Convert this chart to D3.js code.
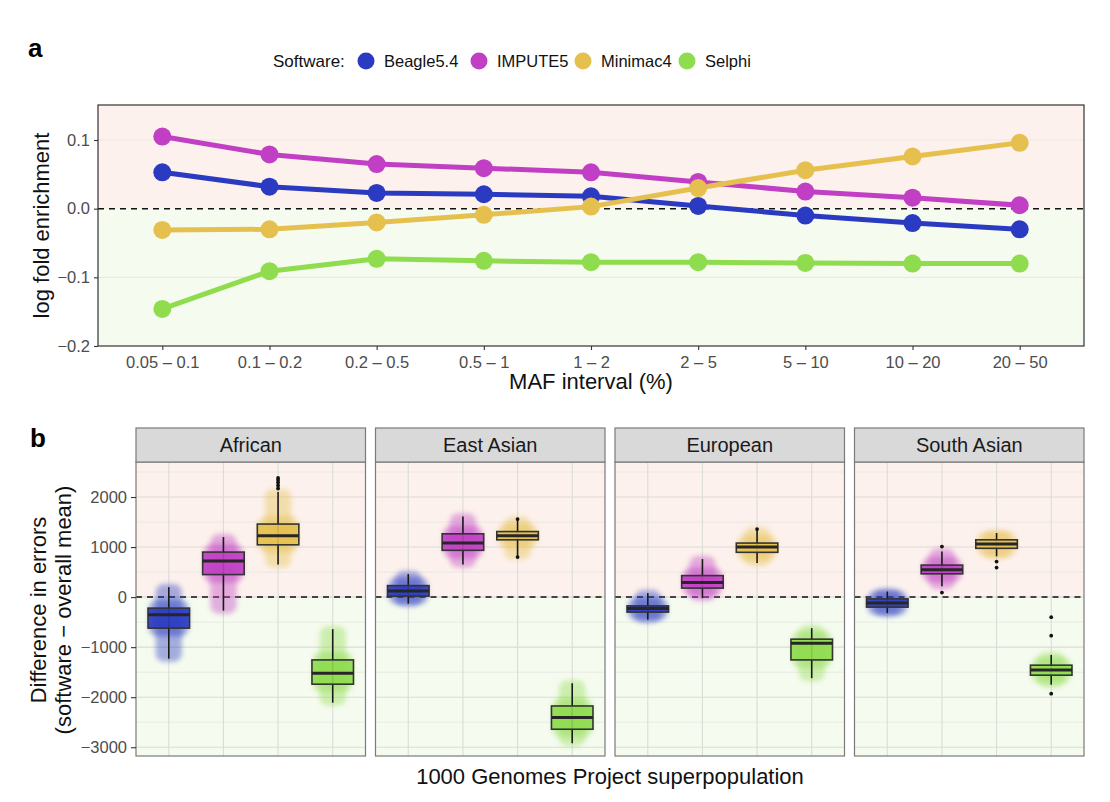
<!DOCTYPE html>
<html>
<head>
<meta charset="utf-8">
<script src="https://cdn.jsdelivr.net/npm/d3@7"></script>
<style>
body { margin: 0; background: #fff; }
text { font-family: "Liberation Sans", Arial, sans-serif; }
</style>
</head>
<body>
<div id="chart"></div>
<script>
/******************************************************* DONNEES *****/

const mafIntervals = ["0.05 – 0.1", "0.1 – 0.2", "0.2 – 0.5", "0.5 – 1", "1 – 2", "2 – 5", "5 – 10", "10 – 20", "20 – 50"];
const softwares = ["Beagle5.4", "IMPUTE5", "Minimac4", "Selphi"];
const softColors = ["#2a3bc2", "#c03fc4", "#e6c04e", "#8fdc4f"];

// panel a : log fold enrichment par intervalle de MAF
const beagleEnrich  = [0.053, 0.032, 0.023, 0.021, 0.018, 0.004, -0.010, -0.021, -0.030];
const imputeEnrich  = [0.105, 0.079, 0.065, 0.059, 0.053, 0.039, 0.025, 0.016, 0.005];
const minimacEnrich = [-0.031, -0.030, -0.020, -0.009, 0.003, 0.030, 0.056, 0.076, 0.096];
const selphiEnrich  = [-0.146, -0.091, -0.073, -0.076, -0.078, -0.078, -0.079, -0.080, -0.080];
const enrichTicks = [0.1, 0, -0.1, -0.2];

// panel b : [moustache bas, q1, mediane, q3, moustache haut] par superpopulation
const populations = ["African", "East Asian", "European", "South Asian"];
const beagleBox  = [[-1230, -620, -350, -220, 200], [-130, 20, 120, 230, 460], [-450, -300, -230, -175, 80], [-320, -200, -120, -35, 110]];
const imputeBox  = [[-270, 450, 720, 900, 1200], [650, 935, 1080, 1265, 1610], [-20, 180, 290, 430, 760], [215, 465, 545, 640, 910]];
const minimacBox = [[650, 1045, 1225, 1460, 2100], [810, 1145, 1225, 1310, 1545], [680, 895, 1000, 1080, 1340], [815, 975, 1060, 1145, 1280]];
const selphiBox  = [[-2110, -1740, -1520, -1255, -640], [-2920, -2640, -2405, -2175, -1720], [-1620, -1255, -920, -840, -620], [-1750, -1560, -1455, -1360, -1155]];
const beagleOut  = [[], [], [], []];
const imputeOut  = [[], [], [], [1010, 90]];
const minimacOut = [[2170, 2230, 2290, 2340, 2380], [1560, 800], [1360], [710, 590]];
const selphiOut  = [[], [], [], [-400, -770, -1930]];
const errorTicks = [2000, 1000, 0, -1000, -2000, -3000];

const enrichSeries = [beagleEnrich, imputeEnrich, minimacEnrich, selphiEnrich];
const boxSeries = [beagleBox, imputeBox, minimacBox, selphiBox];
const outSeries = [beagleOut, imputeOut, minimacOut, selphiOut];

/******************************************************* SVG *****/

const width = 1110, height = 802;
const svg = d3.select("#chart").append("svg")
	.attr("width", width)
	.attr("height", height);

svg.append("defs").append("filter")
	.attr("id", "blur")
	.attr("x", "-50%").attr("y", "-50%").attr("width", "200%").attr("height", "200%")
	.append("feGaussianBlur").attr("stdDeviation", 2.5);

const color = d3.scaleOrdinal().domain(softwares).range(softColors);
const tickGrey = "#4d4d4d";
const pink = "#fcf1ec", green = "#f5fbef";
const tickFont = "16.5px", titleFont = "22px";

/******************************************************* PANEL A *****/

const a = { left: 98, right: 1084, top: 105, bottom: 346 };
const xA = d3.scalePoint().domain(mafIntervals).range([a.left, a.right]).padding(0.6);
const yA = d3.scaleLinear().domain([-0.2, 0.151]).range([a.bottom, a.top]);

svg.append("rect")
	.attr("x", a.left).attr("y", a.top)
	.attr("width", a.right - a.left).attr("height", yA(0) - a.top)
	.attr("fill", pink);
svg.append("rect")
	.attr("x", a.left).attr("y", yA(0))
	.attr("width", a.right - a.left).attr("height", a.bottom - yA(0))
	.attr("fill", green);

svg.append("g").selectAll("line")
	.data(enrichTicks.filter(d => d !== 0 && d !== -0.2))
	.enter().append("line")
	.attr("x1", a.left).attr("x2", a.right)
	.attr("y1", d => yA(d)).attr("y2", d => yA(d))
	.style("stroke", "#ece8e4")
	.style("stroke-width", 1.2);

svg.append("line")
	.attr("x1", a.left).attr("x2", a.right)
	.attr("y1", yA(0)).attr("y2", yA(0))
	.style("stroke", "#111")
	.style("stroke-width", 1.5)
	.style("stroke-dasharray", "6,5");

const line = d3.line()
	.x((d, i) => xA(mafIntervals[i]))
	.y(d => yA(d));

const seriesA = svg.append("g");
seriesA.selectAll("path")
	.data(enrichSeries)
	.enter().append("path")
	.attr("d", line)
	.style("fill", "none")
	.style("stroke", (d, i) => softColors[i])
	.style("stroke-width", 5)
	.style("stroke-linejoin", "round");

enrichSeries.forEach(function(s, k) {
	seriesA.append("g").selectAll("circle")
		.data(s).enter()
		.append("circle")
		.attr("cx", (d, i) => xA(mafIntervals[i]))
		.attr("cy", d => yA(d))
		.attr("r", 9)
		.attr("fill", softColors[k]);
});

svg.append("rect")
	.attr("x", a.left).attr("y", a.top)
	.attr("width", a.right - a.left).attr("height", a.bottom - a.top)
	.style("fill", "none")
	.style("stroke", "#333")
	.style("stroke-width", 1.2);

const axA_x = svg.append("g")
	.attr("transform", "translate(0," + a.bottom + ")")
	.call(d3.axisBottom(xA).tickSize(4).tickPadding(6));
const axA_y = svg.append("g")
	.attr("transform", "translate(" + a.left + ",0)")
	.call(d3.axisLeft(yA).tickValues(enrichTicks).tickSize(4).tickPadding(4)
		.tickFormat(d => d3.format(".1f")(d).replace("-", "−")));
[axA_x, axA_y].forEach(function(ax) {
	ax.select(".domain").remove();
	ax.selectAll(".tick line").style("stroke", "#333").style("stroke-width", 1.1);
	ax.selectAll(".tick text").style("fill", tickGrey).style("font-size", tickFont)
		.style("font-family", "'Liberation Sans', Arial, sans-serif");
});

svg.append("text")
	.attr("transform", "translate(49," + ((a.top + a.bottom) / 2) + ") rotate(-90)")
	.style("text-anchor", "middle")
	.style("font-size", titleFont)
	.style("fill", "#111")
	.text("log fold enrichment");

svg.append("text")
	.attr("x", (a.left + a.right) / 2).attr("y", 389)
	.style("text-anchor", "middle")
	.style("font-size", titleFont)
	.style("fill", "#111")
	.text("MAF interval (%)");

svg.append("text")
	.attr("x", 28).attr("y", 57)
	.style("font-size", "26px")
	.style("font-weight", "bold")
	.text("a");

// légende
const legend = svg.append("g");
legend.append("text")
	.attr("x", 273).attr("y", 67)
	.style("font-size", "17px").style("fill", "#111")
	.text("Software:");
const legX = [366, 479, 583, 687];
softwares.forEach(function(s, i) {
	legend.append("circle")
		.attr("cx", legX[i]).attr("cy", 61).attr("r", 8.5)
		.attr("fill", color(s));
	legend.append("text")
		.attr("x", legX[i] + 18).attr("y", 67)
		.style("font-size", "16.5px").style("fill", "#111")
		.text(s);
});

/******************************************************* PANEL B *****/

const b = { left: 136, right: 1084, stripTop: 428, top: 462, bottom: 756, gap: 10 };
const panelW = (b.right - b.left - 3 * b.gap) / 4;
const yB = d3.scaleLinear().domain([-3175, 2700]).range([b.bottom, b.top]);

populations.forEach(function(pop, p) {
	const x0 = b.left + p * (panelW + b.gap);
	const xB = d3.scalePoint().domain(softwares).range([x0, x0 + panelW]).padding(0.6);
	const step = xB.step();
	const g = svg.append("g");

	g.append("rect")
		.attr("x", x0).attr("y", b.top)
		.attr("width", panelW).attr("height", yB(0) - b.top)
		.attr("fill", pink);
	g.append("rect")
		.attr("x", x0).attr("y", yB(0))
		.attr("width", panelW).attr("height", b.bottom - yB(0))
		.attr("fill", green);

	// grille mineure / majeure
	g.append("g").selectAll("line")
		.data(yB.ticks(12).filter(d => errorTicks.indexOf(d) < 0))
		.enter().append("line")
		.attr("x1", x0).attr("x2", x0 + panelW)
		.attr("y1", d => yB(d)).attr("y2", d => yB(d))
		.style("stroke", "#e6e6e2").style("stroke-width", 0.8);
	g.append("g").selectAll("line")
		.data(errorTicks)
		.enter().append("line")
		.attr("x1", x0).attr("x2", x0 + panelW)
		.attr("y1", d => yB(d)).attr("y2", d => yB(d))
		.style("stroke", "#dcdcd8").style("stroke-width", 1.1);
	g.append("g").selectAll("line")
		.data(softwares)
		.enter().append("line")
		.attr("x1", d => xB(d)).attr("x2", d => xB(d))
		.attr("y1", b.top).attr("y2", b.bottom)
		.style("stroke", "#dcdcd8").style("stroke-width", 1.1);

	g.append("line")
		.attr("x1", x0).attr("x2", x0 + panelW)
		.attr("y1", yB(0)).attr("y2", yB(0))
		.style("stroke", "#111")
		.style("stroke-width", 1.5)
		.style("stroke-dasharray", "6,5");

	softwares.forEach(function(s, k) {
		const st = boxSeries[k][p];
		const cx = xB(s);
		const bw = step * 0.76;

		// nuage des points individuels (rendu flou)
		g.append("rect")
			.attr("x", cx - step * 0.24).attr("width", step * 0.48)
			.attr("y", yB(st[4]) - 3).attr("height", yB(st[0]) - yB(st[4]) + 6)
			.attr("rx", 8)
			.attr("fill", color(s)).attr("opacity", 0.4)
			.attr("filter", "url(#blur)");
		g.append("rect")
			.attr("x", cx - step * 0.36).attr("width", step * 0.72)
			.attr("y", yB(st[3]) - 8).attr("height", yB(st[1]) - yB(st[3]) + 16)
			.attr("rx", 8)
			.attr("fill", color(s)).attr("opacity", 0.45)
			.attr("filter", "url(#blur)");

		// moustaches
		g.append("line")
			.attr("x1", cx).attr("x2", cx)
			.attr("y1", yB(st[4])).attr("y2", yB(st[0]))
			.style("stroke", "#1a1a1a").style("stroke-width", 1.6);

		g.append("rect")
			.attr("x", cx - bw / 2).attr("width", bw)
			.attr("y", yB(st[3])).attr("height", yB(st[1]) - yB(st[3]))
			.attr("fill", color(s)).attr("fill-opacity", 0.9)
			.style("stroke", "#333").style("stroke-width", 1.6);
		g.append("line")
			.attr("x1", cx - bw / 2).attr("x2", cx + bw / 2)
			.attr("y1", yB(st[2])).attr("y2", yB(st[2]))
			.style("stroke", "#262626").style("stroke-width", 3);

		g.append("g").selectAll("circle")
			.data(outSeries[k][p]).enter()
			.append("circle")
			.attr("cx", cx).attr("cy", d => yB(d))
			.attr("r", 1.9)
			.attr("fill", "#111");
	});

	g.append("rect")
		.attr("x", x0).attr("y", b.top)
		.attr("width", panelW).attr("height", b.bottom - b.top)
		.style("fill", "none").style("stroke", "#7a7a7a").style("stroke-width", 1.2);

	g.append("rect")
		.attr("x", x0).attr("y", b.stripTop)
		.attr("width", panelW).attr("height", b.top - b.stripTop)
		.style("fill", "#d9d9d9").style("stroke", "#7a7a7a").style("stroke-width", 1.2);
	g.append("text")
		.attr("x", x0 + panelW / 2).attr("y", (b.stripTop + b.top) / 2 + 7)
		.style("text-anchor", "middle")
		.style("font-size", "20px").style("fill", "#1a1a1a")
		.text(pop);
});

const axB_y = svg.append("g")
	.attr("transform", "translate(" + b.left + ",0)")
	.call(d3.axisLeft(yB).tickValues(errorTicks).tickSize(5).tickPadding(4)
		.tickFormat(d => String(d).replace("-", "−")));
axB_y.select(".domain").remove();
axB_y.selectAll(".tick line").style("stroke", "#333").style("stroke-width", 1.1);
axB_y.selectAll(".tick text").style("fill", tickGrey).style("font-size", tickFont)
	.style("font-family", "'Liberation Sans', Arial, sans-serif");

const titleB = svg.append("text")
	.attr("transform", "translate(46,610) rotate(-90)")
	.style("text-anchor", "middle")
	.style("font-size", titleFont)
	.style("fill", "#111");
titleB.append("tspan").attr("x", 0).attr("dy", 0).text("Difference in errors");
titleB.append("tspan").attr("x", 0).attr("dy", 25).text("(software − overall mean)");

svg.append("text")
	.attr("x", (b.left + b.right) / 2).attr("y", 784)
	.style("text-anchor", "middle")
	.style("font-size", titleFont)
	.style("fill", "#111")
	.text("1000 Genomes Project superpopulation");

svg.append("text")
	.attr("x", 30).attr("y", 447)
	.style("font-size", "26px")
	.style("font-weight", "bold")
	.text("b");
</script>
</body>
</html>
